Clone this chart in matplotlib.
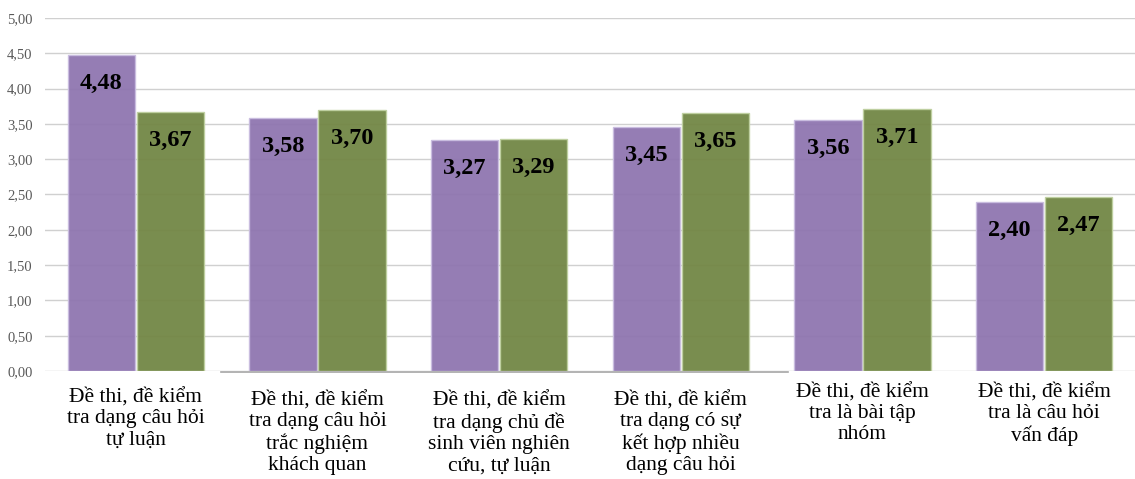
import matplotlib
matplotlib.use("Agg")
import matplotlib.pyplot as plt
import numpy as np

categories = [
    "Đề thi, đề kiểm\ntra dạng câu hỏi\ntự luận",
    "Đề thi, đề kiểm\ntra dạng câu hỏi\ntrắc nghiệm\nkhách quan",
    "Đề thi, đề kiểm\ntra dạng chủ đề\nsinh viên nghiên\ncứu, tự luận",
    "Đề thi, đề kiểm\ntra dạng có sự\nkết hợp nhiều\ndạng câu hỏi",
    "Đề thi, đề kiểm\ntra là bài tập\nnhóm",
    "Đề thi, đề kiểm\ntra là câu hỏi\nvấn đáp",
]
series_purple = [4.48, 3.58, 3.27, 3.45, 3.56, 2.40]
series_green = [3.67, 3.70, 3.29, 3.65, 3.71, 2.47]
y_ticks = [0.0, 0.5, 1.0, 1.5, 2.0, 2.5, 3.0, 3.5, 4.0, 4.5, 5.0]
label_drop_pt = [3.6, 5.8, 5.8, 5.8, 0.0, 0.0]

plt.rcParams['font.family'] = ['Liberation Serif', 'DejaVu Serif']

fig = plt.figure(figsize=(11.35, 4.79), dpi=100)
ax = fig.add_axes([45/1135, 108/479, 1 - 45/1135, (371-18)/479])

x = np.arange(len(categories))
w = 0.37
purple = "#8f76b0"
green = "#728745"
b1 = ax.bar(x - w/2 - 0.005, series_purple, width=w, color=purple, alpha=0.95,
            edgecolor="#c9bde0", linewidth=1.0, zorder=3)
b2 = ax.bar(x + w/2 + 0.005, series_green, width=w, color=green, alpha=0.95,
            edgecolor="#bfd0a0", linewidth=1.0, zorder=3)

for bars, vals in ((b1, series_purple), (b2, series_green)):
    for rect, v in zip(bars, vals):
        ax.annotate(f"{v:.2f}".replace(".", ","),
                    xy=(rect.get_x() + rect.get_width()/2, v),
                    xytext=(0, -20.5), textcoords="offset points",
                    ha="center", va="center", fontsize=17.5,
                    fontweight="bold", color="black", zorder=5)

ax.set_xlim(-0.5, len(categories) - 0.5)
ax.set_ylim(0, 5)
ax.set_yticks(y_ticks)
ax.set_yticklabels([f"{t:.2f}".replace(".", ",") for t in y_ticks],
                   fontsize=10.5, color="#595959")
ax.yaxis.grid(True, color="#d0d0d0", linewidth=1.0, zorder=0)
ax.set_axisbelow(True)
ax.tick_params(axis="y", length=0, pad=9)
ax.tick_params(axis="x", length=0)
ax.set_xticks([])
for s in ax.spines.values():
    s.set_visible(False)

# baseline segment artifact
ax.plot([0.47, 3.59], [-0.015, -0.015], color="#a6a6a6", linewidth=1.2,
        zorder=2, clip_on=False)

for i, (lab, d) in enumerate(zip(categories, label_drop_pt)):
    ax.annotate(lab, xy=(i, 0), xytext=(0, -8.5 - d), textcoords="offset points",
                ha="center", va="top", fontsize=15.5, linespacing=1.15,
                color="black", annotation_clip=False)

fig.savefig("out.png", dpi=100)
